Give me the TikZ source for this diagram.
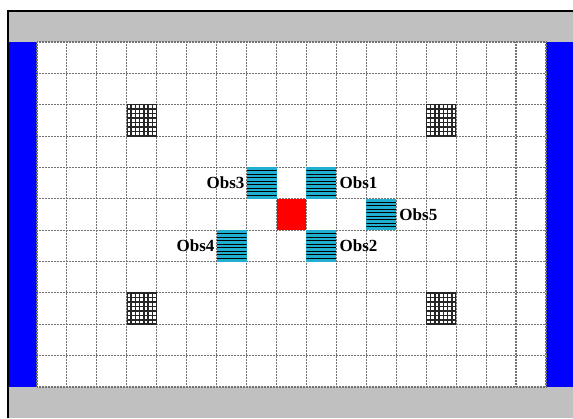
\documentclass[tikz,border=0pt]{standalone}
\usepackage{fontspec}
\setmainfont{Liberation Serif}
\usepackage{xcolor}
\usetikzlibrary{positioning,calc}

\definecolor{wallgray}{HTML}{C0C0C0}
\definecolor{wallblue}{HTML}{0000FF}
\definecolor{obscyan}{HTML}{20AFD0}
\definecolor{robotred}{HTML}{FF0000}

\begin{document}
\begin{tikzpicture}[
        x=1pt, y=-1pt,
        gridline/.style={black!55, line width=1.1pt, dash pattern=on 1pt off 0.5pt},
        cellbox/.style={minimum width=29.94pt, minimum height=31.36pt,
                        inner sep=0pt, outer sep=0pt},
        obstacle/.style={cellbox, fill=obscyan,
            path picture={
                \foreach \k in {1,...,8}
                    \draw[black, line width=1pt]
                        ($(path picture bounding box.north west)!\k/9!(path picture bounding box.south west)$) --
                        ($(path picture bounding box.north east)!\k/9!(path picture bounding box.south east)$);
            }},
        hatch/.style={cellbox, fill=white,
            path picture={
                \foreach \k in {0,...,7} {
                    \draw[black!85, line width=1.5pt]
                        ($(path picture bounding box.north west)!\k/7!(path picture bounding box.north east)$) --
                        ($(path picture bounding box.south west)!\k/7!(path picture bounding box.south east)$);
                    \draw[black!85, line width=1.5pt]
                        ($(path picture bounding box.north west)!\k/7!(path picture bounding box.south west)$) --
                        ($(path picture bounding box.north east)!\k/7!(path picture bounding box.south east)$);
                }
            }},
        robot/.style={cellbox, fill=robotred},
        lbl/.style={font=\fontsize{17}{19}\selectfont\bfseries, inner sep=2pt}
    ]
    \useasboundingbox (0,0) rectangle (573,418);

    % walls
    \fill[wallgray] (8,11) rectangle (573,42);
    \fill[wallgray] (8,387) rectangle (573,418);
    \fill[wallblue] (8,42) rectangle (37,387);
    \fill[wallblue] (546,42) rectangle (573,387);
    \draw[black, line width=2.6pt] (8,418) -- (8,11) -- (573,11);

    \begin{scope}[shift={(37,42)}, x=29.94pt, y=-31.36pt]
        % grid
        \foreach \c in {0,...,17} \draw[gridline] (\c,0) -- (\c,11);
        \foreach \r in {0,...,11} \draw[gridline] (0,\r) -- (17,\r);

        % fixed blocks
        \node[hatch] (blk1) at (3.5,2.5)  {};
        \node[hatch] (blk2) at (13.5,2.5) {};
        \node[hatch] (blk3) at (3.5,8.5)  {};
        \node[hatch] (blk4) at (13.5,8.5) {};

        % robot and obstacles
        \node[robot] (rob) at (8.5,5.5) {};
        \node[obstacle] (obs1) at (9.5,4.5)  {};
        \node[obstacle] (obs2) at (9.5,6.5)  {};
        \node[obstacle] (obs3) at (7.5,4.5)  {};
        \node[obstacle] (obs4) at (6.5,6.5)  {};
        \node[obstacle] (obs5) at (11.5,5.5) {};
    \end{scope}

    \node[lbl, right=1pt of obs1] (lab1) {Obs1};
    \node[lbl, right=1pt of obs2] (lab2) {Obs2};
    \node[lbl, left=0pt of obs3]  (lab3) {Obs3};
    \node[lbl, left=0pt of obs4]  (lab4) {Obs4};
    \node[lbl, right=1pt of obs5] (lab5) {Obs5};
\end{tikzpicture}
\end{document}
